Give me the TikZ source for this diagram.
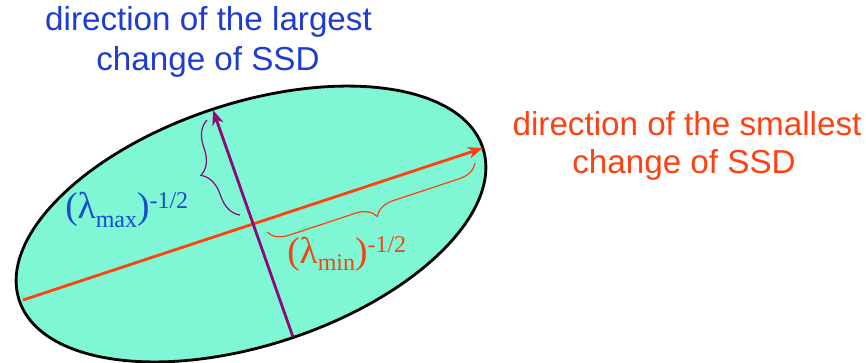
\documentclass[tikz,border=0pt]{standalone}
\usepackage{fontspec}
\setmainfont{Liberation Sans}
\newfontfamily\lblserif{Liberation Serif}
\usetikzlibrary{arrows.meta,decorations.pathreplacing,shapes.geometric}
\definecolor{fillc}{RGB}{127,246,212}
\definecolor{headblue}{RGB}{30,60,210}
\definecolor{headorange}{RGB}{255,64,16}
\definecolor{axisorange}{RGB}{255,64,16}
\definecolor{axispurple}{RGB}{140,10,120}
\definecolor{lblblue}{RGB}{25,75,205}
\definecolor{lblorange}{RGB}{240,70,20}
\tikzset{
  headtext/.style={inner sep=0pt, anchor=base, font=\fontsize{24.9pt}{30pt}\selectfont},
  lbltext/.style={inner sep=0pt, anchor=base west, font=\lblserif\fontsize{28pt}{30pt}\selectfont},
  axisline/.style={line width=2.1pt, -{Stealth[length=11pt, width=8.5pt, inset=3pt]}},
  bracestyle/.style={line width=0.9pt, decorate},
}
\newcommand{\lblsmall}[1]{{\fontsize{18pt}{20pt}\selectfont #1}}
\begin{document}
\begin{tikzpicture}[x=0.75pt, y=-0.75pt]
\useasboundingbox (0,0) rectangle (866,362);
% ellipse
\node[ellipse, draw=black, fill=fillc, line width=2.1pt, inner sep=0pt, outer sep=0pt,
      minimum width=366pt, minimum height=181.5pt, rotate=18.2] (ell) at (251,224) {};
% axis end points
\coordinate (oL) at (23,300);
\coordinate (oR) at (483,148);
\coordinate (pB) at (293,337);
\coordinate (pT) at (213,110);
\draw[axisline, axisorange] (oL) -- (oR);
\draw[axisline, axispurple] (pB) -- (pT);
% braces
\coordinate (bpA) at (240,215);
\coordinate (bpB) at (207,120);
\draw[bracestyle, axispurple, decoration={brace, amplitude=18pt}] (bpA) -- (bpB);
\coordinate (boA) at (475,163);
\coordinate (boB) at (267,232);
\draw[bracestyle, axisorange, decoration={brace, amplitude=15pt}] (boA) -- (boB);
% labels
\node[lbltext, text=lblblue] (lmax) at (65,218)
  {(λ\raisebox{-6.75pt}{\lblsmall{max}})\raisebox{7.5pt}{\lblsmall{-1/2}}};
\node[lbltext, text=lblorange] (lmin) at (287,263)
  {(λ\raisebox{-5.25pt}{\lblsmall{min}})\raisebox{8.25pt}{\lblsmall{-1/2}}};
% headings
\node[headtext, text=headblue] (h1a) at (208.5,30) {direction of the largest};
\node[headtext, text=headblue] (h1b) at (208,70) {change of SSD};
\node[headtext, text=headorange] (h2a) at (687,135) {direction of the smallest};
\node[headtext, text=headorange] (h2b) at (684,173) {change of SSD};
\end{tikzpicture}
\end{document}
